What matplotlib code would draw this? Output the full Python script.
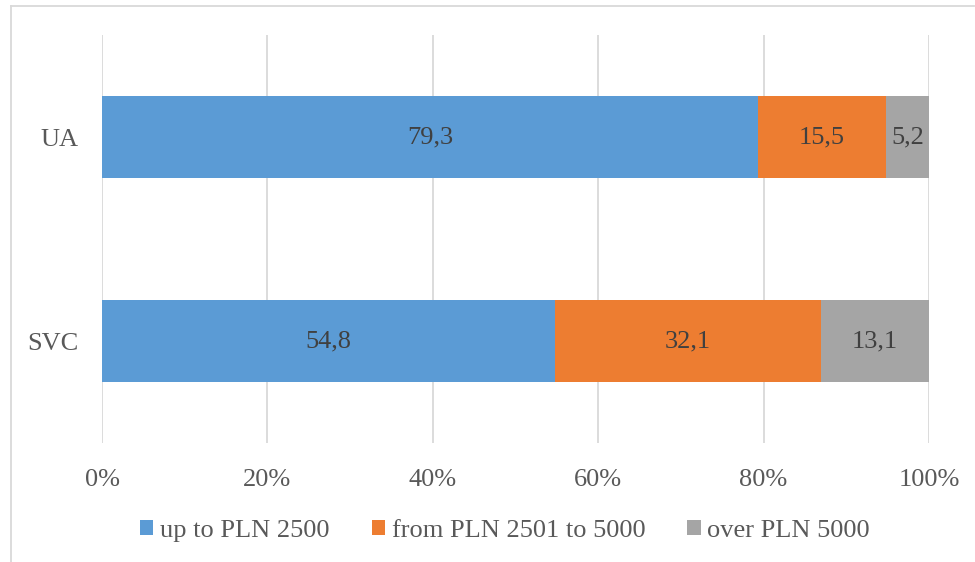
import matplotlib
matplotlib.use("Agg")
import matplotlib.pyplot as plt
from matplotlib.lines import Line2D
from matplotlib.patches import Patch

# Data: share of respondents by income bracket (%)
categories = ["SVC", "UA"]
series_names = ["up to PLN 2500", "from PLN 2501 to 5000", "over PLN 5000"]
up_to_2500 = [54.8, 79.3]
from_2501_to_5000 = [32.1, 15.5]
over_5000 = [13.1, 5.2]
x_ticks = [0, 20, 40, 60, 80, 100]
x_tick_labels = ["0%", "20%", "40%", "60%", "80%", "100%"]

colors = ["#5B9BD5", "#ED7D31", "#A5A5A5"]
series = [up_to_2500, from_2501_to_5000, over_5000]

plt.rcParams["font.family"] = ["Liberation Serif", "DejaVu Serif"]
FS = 19

W, H = 975, 562
fig = plt.figure(figsize=(W / 100, H / 100), dpi=100)
ax = fig.add_axes([102 / W, (H - 443) / H, (929 - 102) / W, (443 - 35) / H])

ypos = list(range(len(categories)))
left = [0.0] * len(categories)
for name, vals, col in zip(series_names, series, colors):
    bars = ax.barh(ypos, vals, left=left, height=0.4, color=col, label=name,
                   edgecolor="none", zorder=3)
    for b, v in zip(bars, vals):
        ax.text(b.get_x() + b.get_width() / 2, b.get_y() + b.get_height() / 2,
                f"{v:.1f}".replace(".", ","), ha="center", va="center",
                fontsize=FS, color="#404040", zorder=4)
    left = [l + v for l, v in zip(left, vals)]

ax.set_xlim(0, 100)
ax.set_ylim(-0.5, len(categories) - 0.5)
ax.set_xticks(x_ticks)
ax.set_xticklabels(x_tick_labels)
ax.set_yticks(ypos)
ax.set_yticklabels(categories)
ax.tick_params(axis="x", length=0, pad=19, labelsize=FS, labelcolor="#595959")
ax.tick_params(axis="y", length=0, pad=17, labelsize=FS, labelcolor="#595959")
ax.grid(axis="x", color="#D9D9D9", linewidth=1.3, zorder=0)
for s in ax.spines.values():
    s.set_visible(False)

handles = [Patch(facecolor=c, edgecolor="none") for c in colors]
fig.legend(handles, series_names, loc="center", ncol=3,
           bbox_to_anchor=(505 / W, (H - 531) / H), frameon=False,
           fontsize=FS, labelcolor="#595959", handlelength=0.5,
           handleheight=0.5, handletextpad=0.25, columnspacing=1.6,
           borderaxespad=0)

# Chart-area border (top and left edges)
fig.add_artist(Line2D([11 / W, 974 / W], [(H - 6) / H, (H - 6) / H],
                      transform=fig.transFigure, color="#D9D9D9", linewidth=1.3))
fig.add_artist(Line2D([11 / W, 11 / W], [(H - 6) / H, 0],
                      transform=fig.transFigure, color="#D9D9D9", linewidth=1.3))

fig.savefig("out.png", dpi=100)
